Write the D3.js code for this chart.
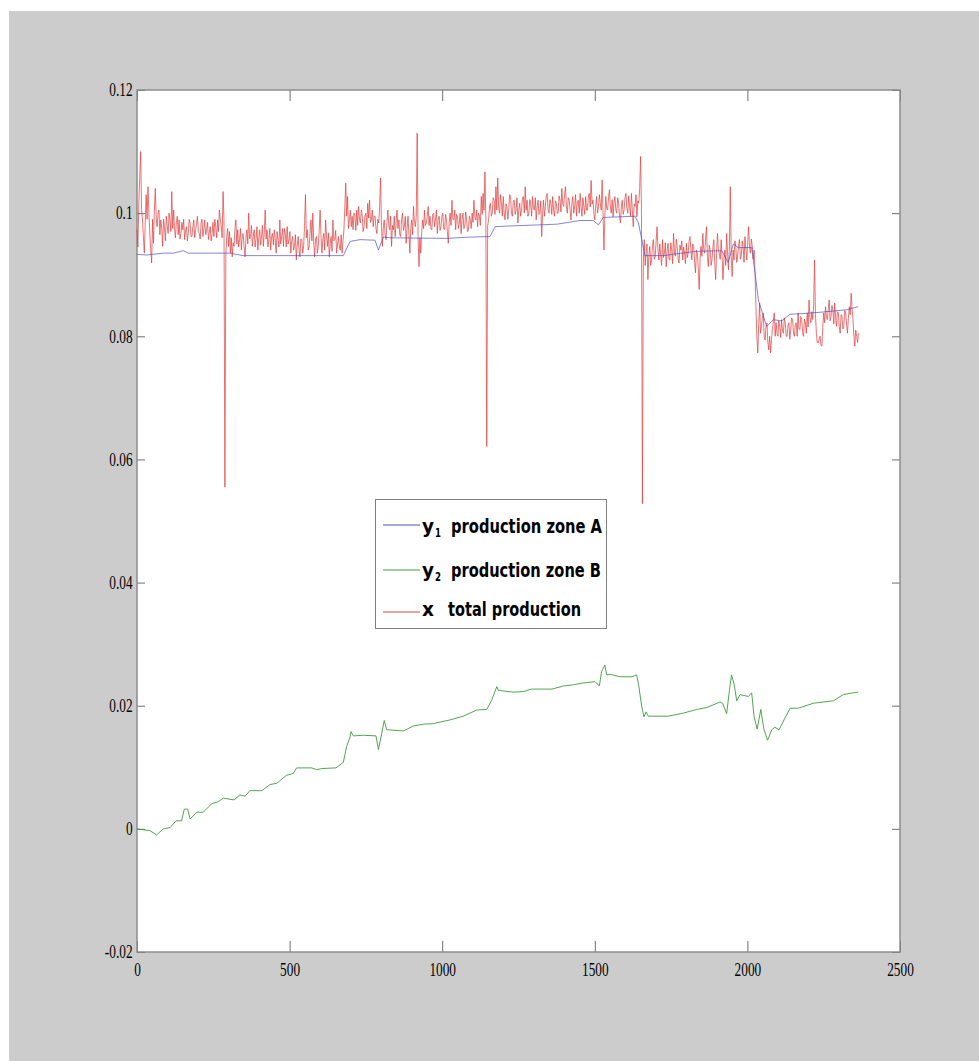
<!DOCTYPE html>
<html><head><meta charset="utf-8">
<script src="https://cdn.jsdelivr.net/npm/d3@7"></script>
<style>html,body{margin:0;padding:0;background:#fff;overflow:hidden}</style>
</head><body>
<svg id="c" width="979" height="1061"></svg>
<script>
// ---------- data ----------
const xTicks = [0, 500, 1000, 1500, 2000, 2500];
const xTickLabels = ["0", "500", "1000", "1500", "2000", "2500"];
const yTicks = [-0.02, 0, 0.02, 0.04, 0.06, 0.08, 0.1, 0.12];
const yTickLabels = ["-0.02", "0", "0.02", "0.04", "0.06", "0.08", "0.1", "0.12"];

const legendSymbols = ["y", "y", "x"];
const legendSubs = ["1", "2", ""];
const legendTexts = ["production zone A", "production zone B", "total production"];

// x  total production, one value every redStep samples
const redStep = 3;
const redValues = [
 .0973,.0945,.1016,.1060,.1100,.1005,.0989,.0960,.0935,.0985,.1030,.0990,.1043,.1000,.0967,.0940,.0919,.0990,.0951,.1005,
 .1040,.0990,.0978,.1000,.1005,.0965,.0989,.0975,.0946,.0990,.0978,.0955,.0995,.0980,.0967,.1000,.0989,.0970,.1035,.0975,
 .1005,.0975,.0960,.0985,.0995,.0965,.0989,.0958,.0967,.0985,.0973,.0990,.0957,.0972,.0978,.0955,.0967,.0990,.0984,.0962,
 .0962,.0978,.0989,.0960,.0973,.0982,.0995,.0970,.0967,.0958,.0984,.0990,.0962,.0975,.0989,.0965,.0973,.0985,.0957,.0968,
 .0978,.0955,.0967,.0985,.0962,.0990,.0978,.0960,.0989,.0970,.1005,.0990,.0978,.0960,.1035,.0990,.0555,.0930,.0962,.0975,
 .0946,.0970,.0935,.0960,.0929,.0952,.0946,.0975,.0989,.0950,.0973,.0945,.0957,.0975,.0940,.0965,.0967,.0945,.0929,.0960,
 .0973,.0950,.1000,.0958,.0962,.0980,.0946,.0962,.0973,.0945,.0957,.0978,.0940,.0960,.0973,.0948,.0962,.0980,.0946,.0968,
 .1005,.0958,.0973,.0945,.0957,.0975,.0940,.0962,.0967,.0948,.0973,.0955,.0935,.0970,.0957,.0945,.0989,.0950,.0962,.0975,
 .0946,.0975,.0967,.0945,.0978,.0950,.0957,.0970,.0935,.0955,.0962,.0940,.0946,.0965,.0924,.0948,.0962,.0940,.0929,.0958,
 .0957,.0935,.0946,.0980,.1030,.0960,.0973,.0940,.0946,.0968,.0989,.0955,.1000,.0952,.0929,.0958,.0962,.0935,.0946,.0972,
 .1005,.0960,.0935,.0958,.0967,.0940,.0989,.0962,.0946,.0968,.0929,.0950,.0962,.0938,.0989,.0955,.0957,.0972,.0935,.0950,
 .0962,.0945,.0940,.0965,.0935,.0955,.0973,.1010,.1049,.0995,.1027,.0975,.0989,.1005,.0978,.0995,.0973,.1000,.0995,.0972,
 .1005,.0980,.1011,.0990,.0984,.1005,.0995,.0970,.0978,.0995,.1000,.0975,.1016,.0992,.1021,.0985,.0989,.1005,.0978,.0995,
 .0995,.0975,.0967,.0990,.0984,.1010,.1057,.0980,.0946,.0975,.0989,.0965,.0957,.0985,.1005,.0980,.0973,.0995,.0946,.0980,
 .0973,.0995,.0962,.0985,.1005,.0975,.0989,.0965,.0962,.0990,.1000,.0972,.0978,.0995,.0951,.0975,.0995,.0965,.0935,.0975,
 .0989,.0965,.1011,.0985,.0978,.0995,.1130,.0960,.0913,.0960,.0935,.0970,.0989,.0975,.1005,.0980,.0984,.0995,.1011,.0980,
 .0995,.0975,.0973,.0998,.1000,.0978,.0989,.1005,.0967,.0990,.0995,.0972,.0978,.0995,.1000,.0975,.0973,.0998,.0989,.0970,
 .0951,.0985,.1000,.0980,.1021,.0990,.0989,.1005,.0973,.0998,.0995,.0975,.0984,.1000,.0967,.0990,.1000,.0975,.0978,.1002,
 .0989,.0970,.0973,.0995,.0989,.0975,.1000,.0985,.1021,.0995,.0989,.1005,.0978,.1000,.0995,.0980,.1027,.0998,.1032,.1005,
 .1067,.0990,.0621,.0980,.0989,.1010,.1016,.0995,.1000,.1025,.1021,.0998,.1043,.1005,.1057,.1010,.1000,.1030,.1016,.0995,
 .1027,.1000,.0989,.1015,.1011,.0990,.1005,.1030,.1027,.1000,.0995,.1020,.1021,.0998,.1005,.1025,.0984,.1005,.1016,.0995,
 .1005,.1025,.1027,.1000,.1043,.1005,.1021,.0995,.1000,.1022,.1016,.0995,.1027,.1008,.1005,.1025,.0989,.1010,.1021,.0998,
 .1000,.1020,.0962,.1000,.1021,.0995,.1011,.1028,.1032,.1005,.1000,.1022,.1016,.0998,.1027,.1005,.0995,.1020,.1016,.1000,
 .1000,.1028,.1021,.1002,.1040,.1015,.1011,.1030,.1043,.1010,.1000,.1025,.1021,.1005,.0989,.1015,.1027,.1000,.1011,.1030,
 .0995,.1018,.1021,.1000,.1032,.1010,.0995,.1025,.1011,.0998,.1027,.1005,.1005,.1028,.1032,.1010,.1053,.1015,.1021,.1000,
 .0989,.1012,.1027,.1000,.1011,.1030,.1016,.1005,.1054,.1000,.0940,.0995,.1027,.1008,.1005,.1025,.1038,.1010,.1000,.1022,
 .0994,.1018,.1027,.1005,.1000,.1025,.1016,.0995,.0984,.1010,.1021,.0998,.1005,.1025,.1032,.1008,.1000,.1028,.1011,.0995,
 .1032,.1005,.0978,.1015,.1011,.1030,.0994,.1020,.1016,.1040,.1092,.1000,.0528,.0920,.0957,.0915,.0935,.0950,.0892,.0930,
 .0946,.0915,.0924,.0948,.0957,.0925,.0930,.0955,.0978,.0940,.0924,.0950,.0930,.0915,.0957,.0928,.0935,.0952,.0913,.0940,
 .0951,.0925,.0924,.0952,.0940,.0918,.0967,.0935,.0930,.0958,.0946,.0925,.0919,.0948,.0940,.0955,.0924,.0945,.0935,.0918,
 .0951,.0928,.0935,.0955,.0962,.0938,.0924,.0950,.0946,.0920,.0903,.0940,.0935,.0910,.0876,.0925,.0946,.0930,.0967,.0940,
 .0935,.0958,.0978,.0930,.0913,.0948,.0940,.0915,.0924,.0945,.0957,.0920,.0892,.0935,.0967,.0940,.0935,.0925,.0957,.0930,
 .0892,.0925,.0940,.0915,.0967,.0935,.0908,.0945,.1043,.0930,.0897,.0940,.0924,.0955,.0946,.0920,.0930,.0948,.0957,.0925,
 .0930,.0955,.0946,.0920,.0962,.0940,.0924,.0952,.0978,.0945,.0935,.0958,.0946,.0925,.0940,.0905,.0848,.0800,.0773,.0820,
 .0854,.0805,.0816,.0830,.0838,.0800,.0794,.0815,.0822,.0790,.0778,.0800,.0773,.0795,.0811,.0825,.0838,.0800,.0822,.0805,
 .0800,.0825,.0816,.0798,.0827,.0808,.0805,.0830,.0822,.0800,.0800,.0818,.0822,.0795,.0811,.0830,.0827,.0805,.0800,.0820,
 .0822,.0800,.0838,.0812,.0811,.0832,.0827,.0805,.0800,.0828,.0822,.0805,.0838,.0815,.0859,.0830,.0822,.0840,.0827,.0850,
 .0924,.0835,.0805,.0790,.0789,.0795,.0800,.0785,.0784,.0815,.0838,.0822,.0848,.0830,.0827,.0845,.0859,.0825,.0832,.0850,
 .0843,.0820,.0854,.0830,.0816,.0840,.0838,.0815,.0805,.0835,.0832,.0812,.0816,.0842,.0838,.0820,.0805,.0830,.0848,.0835,
 .0870,.0845,.0827,.0800,.0784,.0810,.0800,.0790,.0805
];

// y1 production zone A
const blueX = [0,32,86,119,152,168,196,305,348,676,
  698,731,780,791,807,829,1015,1086,1157,1173,
  1211,1375,1452,1495,1512,1528,1632,1643,1654,1664,
  1725,1785,1834,1916,1937,1954,1970,2014,2025,2036,
  2063,2085,2112,2140,2150,2183,2238,2325,2363];
const blueY = [0.0933,0.0932,0.0935,0.0935,0.0939,0.0935,0.0935,0.0935,0.0931,0.0931,
  0.0954,0.0957,0.0956,0.0940,0.0961,0.0960,0.0959,0.0961,0.0962,0.0978,
  0.0979,0.0982,0.0988,0.0988,0.0981,0.0993,0.0995,0.0984,0.0957,0.0931,
  0.0931,0.0935,0.0938,0.0939,0.0920,0.0950,0.0944,0.0944,0.0903,0.0859,
  0.0816,0.0827,0.0825,0.0836,0.0836,0.0837,0.0839,0.0843,0.0848];

// y2 production zone B
const greenX = [0,43,64,86,108,128,146,155,166,174,
  196,217,245,266,283,305,318,337,354,370,
  409,436,458,490,512,523,572,589,605,652,
  676,687,698,701,709,742,783,791,802,810,
  818,873,905,938,971,1026,1069,1113,1146,1162,
  1179,1184,1233,1266,1293,1359,1397,1430,1462,1501,
  1515,1522,1533,1539,1550,1583,1621,1637,1643,1654,
  1661,1668,1675,1741,1790,1834,1867,1910,1919,1932,
  1941,1948,1956,1965,1976,2003,2014,2022,2032,2044,
  2054,2066,2080,2090,2104,2123,2140,2167,2216,2282,
  2314,2347,2363];
const greenY = [0,-0.0003,-0.001,0,0.0002,0.0013,0.0013,0.0032,0.0032,0.0016,
  0.0027,0.0027,0.0041,0.0044,0.005,0.0048,0.0047,0.0055,0.0053,0.0062,
  0.0062,0.0072,0.0074,0.0087,0.009,0.0099,0.0099,0.0096,0.0098,0.0099,
  0.0108,0.0134,0.0149,0.0158,0.0151,0.0152,0.0151,0.0129,0.0155,0.0176,
  0.0161,0.0159,0.0167,0.017,0.0171,0.0177,0.0183,0.0193,0.0194,0.0209,
  0.0231,0.0225,0.0222,0.0223,0.0227,0.0227,0.0232,0.0234,0.0237,0.0239,
  0.0232,0.0255,0.0266,0.025,0.0251,0.0247,0.0247,0.025,0.0236,0.0198,
  0.0182,0.019,0.0183,0.0183,0.0188,0.0194,0.0197,0.0206,0.0204,0.0187,
  0.0225,0.025,0.0236,0.0208,0.0218,0.0215,0.0221,0.0182,0.0162,0.0194,
  0.0162,0.0144,0.0161,0.0165,0.0161,0.018,0.0196,0.0196,0.0204,0.0208,
  0.0218,0.0221,0.0222];

// ---------- drawing ----------
const W = 979, H = 1061;
const plot = {left: 137, top: 90, right: 900, bottom: 952};
const svg = d3.select("#c");

svg.append("rect").attr("x", 0).attr("y", 0).attr("width", W).attr("height", H).attr("fill", "#ffffff");
svg.append("rect").attr("x", 9).attr("y", 11).attr("width", W - 9).attr("height", H - 11).attr("fill", "#cccccc");
svg.append("rect").attr("x", plot.left).attr("y", plot.top)
  .attr("width", plot.right - plot.left).attr("height", plot.bottom - plot.top).attr("fill", "#ffffff");

const x = d3.scaleLinear().domain([0, 2500]).range([plot.left, plot.right]);
const y = d3.scaleLinear().domain([-0.02, 0.12]).range([plot.bottom, plot.top]);

const fontTick = "'Liberation Serif','Times New Roman',serif";

function styleAxis(g) {
  g.select(".domain").remove();
  g.selectAll(".tick line").attr("stroke", "#6e6e6e").attr("stroke-width", 1);
}

// bottom axis
const gB = svg.append("g").attr("transform", `translate(0,${plot.bottom})`)
  .call(d3.axisBottom(x).tickValues(xTicks).tickFormat((d, i) => xTickLabels[i]).tickSizeInner(-11).tickSizeOuter(0).tickPadding(11));
styleAxis(gB);
gB.selectAll(".tick text").attr("font-family", fontTick).attr("font-size", 18).attr("fill", "#000")
  .attr("transform", "scale(0.74,1)");
// top ticks
const gT = svg.append("g").attr("transform", `translate(0,${plot.top})`)
  .call(d3.axisTop(x).tickValues(xTicks).tickFormat("").tickSizeInner(-11).tickSizeOuter(0));
styleAxis(gT);
// left axis
const gL = svg.append("g").attr("transform", `translate(${plot.left},0)`)
  .call(d3.axisLeft(y).tickValues(yTicks).tickFormat((d, i) => yTickLabels[i]).tickSizeInner(-8).tickSizeOuter(0).tickPadding(6));
styleAxis(gL);
gL.selectAll(".tick text").attr("font-family", fontTick).attr("font-size", 18).attr("fill", "#000")
  .attr("transform", "scale(0.74,1)");
// right ticks
const gR = svg.append("g").attr("transform", `translate(${plot.right},0)`)
  .call(d3.axisRight(y).tickValues(yTicks).tickFormat("").tickSizeInner(-8).tickSizeOuter(0));
styleAxis(gR);

// box
svg.append("rect").attr("x", plot.left).attr("y", plot.top)
  .attr("width", plot.right - plot.left).attr("height", plot.bottom - plot.top)
  .attr("fill", "none").attr("stroke", "#8c8c8c").attr("stroke-width", 1.5);

// series
const blueData = d3.zip(blueX, blueY);
const greenData = d3.zip(greenX, greenY);
const lineXY = d3.line().x(d => x(d[0])).y(d => y(d[1]));
const redLine = d3.line().x((d, i) => x(i * redStep)).y(d => y(d));

svg.append("path").datum(greenData).attr("d", lineXY)
  .attr("fill", "none").attr("stroke", "#3f9a3f").attr("stroke-width", 0.9);
svg.append("path").datum(redValues).attr("d", redLine)
  .attr("fill", "none").attr("stroke", "#e03a3a").attr("stroke-width", 0.7).attr("stroke-linejoin", "round");
svg.append("path").datum(blueData).attr("d", lineXY)
  .attr("fill", "none").attr("stroke", "#4a4ac0").attr("stroke-width", 0.8).attr("opacity", 0.85);

// legend
const legColors = ["#4a4ac0", "#3f9a3f", "#e04040"];
const legLineY = [525, 570, 612];
const legBase = [533, 577, 616];
const legTextLen = [151, 150, 133];
const legTextX = [451, 451, 448];
const fontLeg = "'DejaVu Sans','Verdana',sans-serif";
const lg = svg.append("g");
lg.append("rect").attr("x", 375.5).attr("y", 499.5).attr("width", 231).attr("height", 129)
  .attr("fill", "#fff").attr("stroke", "#808080").attr("stroke-width", 1);
legendTexts.forEach((t, i) => {
  lg.append("line").attr("x1", 383).attr("x2", 420).attr("y1", legLineY[i]).attr("y2", legLineY[i])
    .attr("stroke", legColors[i]).attr("stroke-width", 1);
  lg.append("text").attr("x", 422).attr("y", legBase[i]).attr("font-family", fontLeg).attr("font-weight", "bold")
    .attr("font-size", 20).attr("textLength", 12).attr("lengthAdjust", "spacingAndGlyphs").text(legendSymbols[i]);
  if (legendSubs[i]) {
    lg.append("text").attr("x", 435).attr("y", legBase[i] + 4).attr("font-family", fontLeg).attr("font-weight", "bold")
      .attr("font-size", 13).attr("textLength", 6).attr("lengthAdjust", "spacingAndGlyphs").text(legendSubs[i]);
  }
  lg.append("text").attr("x", legTextX[i]).attr("y", legBase[i]).attr("font-family", fontLeg).attr("font-weight", "bold")
    .attr("font-size", 20).attr("textLength", legTextLen[i]).attr("lengthAdjust", "spacingAndGlyphs").text(t);
});
</script>
</body></html>
